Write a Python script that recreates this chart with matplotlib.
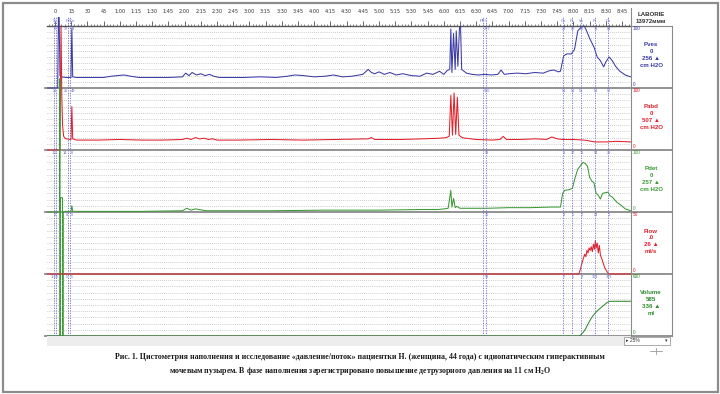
import matplotlib

matplotlib.use("Agg")

import matplotlib.pyplot as plt
from matplotlib.lines import Line2D
from matplotlib.patches import Rectangle
from matplotlib.ticker import MultipleLocator, FuncFormatter
from matplotlib.transforms import Bbox, TransformedBbox

plt.rcParams["mathtext.fontset"] = "custom"
plt.rcParams["mathtext.rm"] = "Liberation Serif:bold"

# ---- traces (time in s, values in panel units) ----
pves_t = [-7, 2.5, 3.2, 3.8, 4.6, 6, 10, 14.8, 15.6, 16.4, 20,
          30, 45, 52, 58, 64, 70, 78, 90, 105, 118, 121, 124, 127, 131, 135, 139, 143, 147, 152, 160,
          175, 190, 205, 215, 222, 230, 240, 250, 258, 266, 275, 285, 290, 293, 296, 300, 305, 310, 316, 322,
          330, 338, 344, 350, 356, 360, 363, 365.5, 366.5, 367.5, 369, 370.5, 371.5, 373, 374.5, 375.5, 376.5, 378, 381, 386,
          392, 398, 404, 410, 413, 416, 420, 428, 436, 444, 452, 458, 462, 466, 468, 471, 474, 478, 481, 484,
          487, 490, 492, 495, 499, 502, 505, 508, 510, 513, 516, 519, 523, 528, 533]
pves_v = [0, 0, 120, 120, 20, 18, 17, 17, 96, 18, 17,
          17, 17, 19, 20, 21, 19, 17, 17, 17, 18, 24, 20, 25, 21, 23, 20, 22, 19, 17, 17,
          17, 18, 17, 19, 21, 20, 18, 19, 21, 18, 19, 22, 30, 25, 23, 26, 22, 25, 21, 23,
          20, 19, 24, 22, 27, 22, 28, 30, 95, 25, 88, 30, 92, 35, 97, 100, 30, 28, 24, 22,
          21, 22, 21, 22, 29, 22, 23, 24, 23, 25, 24, 28, 29, 26, 27, 52, 55, 55, 62, 92,
          98, 100, 93, 80, 66, 50, 44, 34, 42, 50, 44, 35, 27, 21, 18]

pabd_t = [-7, 4.5, 5.6, 6.3, 7, 8, 10, 14.8, 15.6, 16.4, 20, 40, 60, 80, 100, 118, 122, 126, 130, 134,
          138, 142, 146, 150, 170, 200, 230, 260, 290, 293, 296, 320, 340, 356, 362, 365, 366.5, 368, 369.5, 371,
          372.5, 374, 375.5, 377, 380, 390, 405, 412, 415, 418, 430, 445, 455, 460, 465, 470, 480, 490, 500, 510,
          520, 533]
pabd_v = [0, 0, 200, 85, 40, 22, 18, 17, 70, 18, 16, 16, 17, 16, 16, 17, 19, 17, 20, 18,
          19, 17, 18, 16, 16, 17, 16, 17, 18, 20, 17, 17, 18, 19, 20, 22, 88, 24, 92, 25,
          85, 24, 22, 20, 19, 17, 16, 17, 22, 17, 17, 18, 17, 21, 18, 17, 17, 16, 13, 13,
          14, 13]

pdet_t = [-7, 4.2, 4.5, 4.7, 5.0, 7.0, 7.3, 7.6, 9, 12, 14.8, 15.6, 16.4, 20, 40, 80, 118, 122, 126, 130,
          140, 150, 200, 250, 290, 300, 340, 355, 360, 364, 366.5, 367.5, 369, 370.5, 372, 375, 380, 400, 420, 440,
          460, 468, 470, 472, 476, 479, 481, 484, 487, 489, 491, 493, 495, 497, 499, 501, 503, 505, 507, 509,
          512, 514, 516, 520, 524, 528, 533]
pdet_v = [0, 0, 215, -450, 23, 23, -450, 0, 1, 1, 1, 10, 1, 1, 1, 1, 2, 6, 3, 5,
          2, 2, 2, 3, 3, 3, 4, 4, 5, 6, 35, 8, 22, 7, 9, 6, 6, 6, 7, 7,
          8, 8, 30, 35, 36, 38, 52, 69, 76, 80, 78, 74, 56, 50, 47, 30, 27, 21, 30, 31,
          32, 26, 24, 16, 11, 5, 2]

flow_t = [-7, 485, 486.5, 488, 489, 490.5, 491.5, 492.5, 493.5, 494.5, 495.5, 496.5, 497.5, 498.5, 499.5, 500.3,
          501, 502, 503, 504, 505, 506, 507.5, 509, 511, 513, 533]
flow_v = [0, 0, 4, 9, 12, 16, 14, 19, 17, 21, 19, 22, 18, 24, 20, 27,
          21, 25, 17, 23, 15, 13, 9, 5, 2, 0, 0]

vol_t = [-7, 485, 487, 489, 491, 493, 495, 497, 499, 501, 503, 505, 507, 509, 511, 513, 515, 533]
vol_v = [0, 0, 12, 35, 65, 105, 145, 180, 208, 232, 252, 270, 287, 305, 322, 333, 336, 336]

# ---- panels ----
names = ["Pves", "Pabd", "Pdet", "Flow", "Volume"]
zero_text = ["0", "0", "0", ".0", "585"]
max_text = ["256 \u25b2", "507 \u25b2", "257 \u25b2", "26 \u25b2", "336 \u25b2"]
units = ["cm H2O", "cm H2O", "cm H2O", "ml/s", "ml"]
scale_top = [100, 100, 100, 50, 600]
colors = ["#3b3ba6", "#e3202b", "#3c9a36", "#e3202b", "#2f8a2f"]

# ---- event marks ----
events_t = [-0.9, 0.9, 12.0, 13.9, 396.3, 399.1, 470.4, 478.7, 487.0, 500.0, 512.0]
events_top = ["S", "", "", "PrCn", "PPI", "", "Ch", "Pr", "Vo", "Pr", "Ch"]
event_vals = [
    ["9", "", "37", "38", "", "297", "24", "59", "86", "73", "64"],
    ["21", "", "25", "49", "", "500", "51", "51", "51", "53", "52"],
    ["-12", "", "14", "8", "", "59", "9", "37", "71", "94", "29"],
    ["0", "", "0", "0", "", "30", "9", "5", "2", "24", "1"],
    ["-169", "", "5", "5", "", "59", "7", "5", "2", "301", "333"],
]

W, H = 720, 394
X0, X1 = 47, 631
XR = 672
T0, T1 = -7.4, 533.3
edges = [26, 88, 150, 212, 274, 336]
UI = ["Liberation Sans", "DejaVu Sans"]
EV_COL = "#6b6bd0"


def fx(x):
    return x / W


def fy(y):
    return 1 - y / H


def fline(x0, y0, x1, y1, **kw):
    fig.add_artist(Line2D([fx(x0), fx(x1)], [fy(y0), fy(y1)],
                          transform=fig.transFigure, **kw))


def tfmt(s, pos=None):
    s = int(round(s))
    if s < 60:
        return str(s)
    return f"{s // 60}:{s % 60:02d}"


fig = plt.figure(figsize=(7.2, 3.94), dpi=100)
fig.patch.set_facecolor("white")

clip = TransformedBbox(Bbox.from_extents(fx(X0), fy(336), fx(X1), fy(17)),
                       fig.transFigure)

series = [(pves_t, pves_v), (pabd_t, pabd_v), (pdet_t, pdet_v),
          (flow_t, flow_v), (vol_t, vol_v)]

axes = []
for i, (t, v) in enumerate(series):
    top, bot = edges[i], edges[i + 1]
    ax = fig.add_axes([fx(X0), fy(bot), fx(X1) - fx(X0), fy(top) - fy(bot)])
    ax.set_xlim(T0, T1)
    ax.set_ylim(0, scale_top[i])
    ax.patch.set_alpha(0)
    for s in ax.spines.values():
        s.set_visible(False)
    ax.set_yticks([])
    ax.set_xticks([])
    for k in range(1, 10):
        ax.axhline(scale_top[i] * k / 10, color="#a0a0a0", lw=0.5,
                   ls=(0, (1, 2)), zorder=1)
    ln, = ax.plot(t, v, color=colors[i], lw=0.75, zorder=3)
    ln.set_clip_box(clip)
    axes.append(ax)

# top time axis
ax1 = axes[0]
ax1.spines["top"].set_visible(True)
ax1.spines["top"].set_color("#555555")
ax1.spines["top"].set_linewidth(1.0)
ax1.xaxis.set_ticks_position("top")
ax1.xaxis.set_major_locator(MultipleLocator(15))
ax1.xaxis.set_minor_locator(MultipleLocator(3))
ax1.xaxis.set_major_formatter(FuncFormatter(tfmt))
ax1.set_xlim(T0, T1)
ax1.tick_params(axis="x", which="major", direction="out", length=3.5, width=0.6,
                color="#555555", labelsize=3.6, labelcolor="#333333", pad=5)
ax1.tick_params(axis="x", which="minor", direction="out", length=1.6, width=0.5,
                color="#555555")

# event lines overlay
ev = fig.add_axes([fx(X0), fy(336), fx(X1) - fx(X0), fy(17) - fy(336)])
ev.set_xlim(T0, T1)
ev.set_ylim(336, 17)
ev.axis("off")
ev.patch.set_alpha(0)
for t, lab in zip(events_t, events_top):
    ev.axvline(t, color=EV_COL, lw=0.6, ls=(0, (1.5, 1.5)), zorder=2)
    if lab:
        ev.text(t, 21, lab, color=EV_COL, fontsize=3.0, ha="center", va="center",
                family=UI)
for i, vals in enumerate(event_vals):
    for j, (t, lab) in enumerate(zip(events_t, vals)):
        if not lab:
            continue
        if j == 2:
            ev.text(t - 0.3, edges[i] + 3.5, lab, color=EV_COL, fontsize=2.8,
                    ha="right", va="center", family=UI)
        else:
            ev.text(t + 0.5, edges[i] + 3.5, lab, color=EV_COL, fontsize=2.8,
                    ha="left" if j == 3 else "center", va="center", family=UI)

# panel boundaries and right label boxes
for y in edges[1:]:
    fline(45, y, XR, y, color="#8a8a8a", lw=1.3, zorder=0)
fline(X1, 8, X1, 336, color="#8a8a8a", lw=0.8)
fline(XR, 26, XR, 336, color="#8a8a8a", lw=0.8)
fline(X1, 26, XR, 26, color="#8a8a8a", lw=0.8)

fig.text(fx(651), fy(14), "LABORIE", fontsize=4.4, weight="bold", ha="center",
         va="center", color="#333333", family=UI)
fig.text(fx(651), fy(21.5), "13972\u043c\u043c\u043c", fontsize=4.4, weight="bold",
         ha="center", va="center", color="#333333", family=UI)

for i in range(5):
    top, bot = edges[i], edges[i + 1]
    c = colors[i]
    fig.text(fx(633), fy(top + 3), str(scale_top[i]), color=c, fontsize=3.4,
             ha="left", va="center", family=UI)
    fig.text(fx(633), fy(bot - 3), "0", color=c, fontsize=3.4, ha="left",
             va="center", family=UI)
    for k, s in enumerate([names[i], zero_text[i], max_text[i], units[i]]):
        fig.text(fx(651), fy(top + 19 + 6.7 * k), s, color=c, fontsize=4.4,
                 weight="bold", ha="center", va="center", family=UI)

# bottom strip
fig.add_artist(Rectangle((fx(X0), fy(346)), fx(X1) - fx(X0), fy(336) - fy(346),
                         transform=fig.transFigure, facecolor="#ededed",
                         edgecolor="none"))
fig.add_artist(Rectangle((fx(624), fy(345)), fx(670) - fx(624), fy(337) - fy(345),
                         transform=fig.transFigure, facecolor="white",
                         edgecolor="#888888", lw=0.5))
fig.text(fx(626), fy(341), "\u25b8 25%", fontsize=3.6, ha="left", va="center",
         color="#333333", family=UI)
fig.text(fx(666), fy(341), "\u25be", fontsize=3.6, ha="center", va="center",
         color="#333333", family=UI)
fline(650, 351, 662, 351, color="#999999", lw=0.6)
fline(656, 348, 656, 354, color="#999999", lw=0.6)

# caption
cap1 = ("\u0420\u0438\u0441. 1. \u0426\u0438\u0441\u0442\u043e\u043c\u0435\u0442\u0440\u0438\u044f "
        "\u043d\u0430\u043f\u043e\u043b\u043d\u0435\u043d\u0438\u044f \u0438 "
        "\u0438\u0441\u0441\u043b\u0435\u0434\u043e\u0432\u0430\u043d\u0438\u0435 "
        "\u00ab\u0434\u0430\u0432\u043b\u0435\u043d\u0438\u0435/\u043f\u043e\u0442\u043e\u043a\u00bb "
        "\u043f\u0430\u0446\u0438\u0435\u043d\u0442\u043a\u0438 \u041d. "
        "(\u0436\u0435\u043d\u0449\u0438\u043d\u0430, 44 \u0433\u043e\u0434\u0430) \u0441 "
        "\u0438\u0434\u0438\u043e\u043f\u0430\u0442\u0438\u0447\u0435\u0441\u043a\u0438\u043c "
        "\u0433\u0438\u043f\u0435\u0440\u0430\u043a\u0442\u0438\u0432\u043d\u044b\u043c")
cap2 = ("\u043c\u043e\u0447\u0435\u0432\u044b\u043c \u043f\u0443\u0437\u044b\u0440\u0435\u043c. "
        "\u0412 \u0444\u0430\u0437\u0435 \u043d\u0430\u043f\u043e\u043b\u043d\u0435\u043d\u0438\u044f "
        "\u0437\u0430\u0440\u0435\u0433\u0438\u0441\u0442\u0440\u0438\u0440\u043e\u0432\u0430\u043d\u043e "
        "\u043f\u043e\u0432\u044b\u0448\u0435\u043d\u0438\u0435 "
        "\u0434\u0435\u0442\u0440\u0443\u0437\u043e\u0440\u043d\u043e\u0433\u043e "
        "\u0434\u0430\u0432\u043b\u0435\u043d\u0438\u044f \u043d\u0430 11 \u0441\u043c H$_2$O")
fig.text(0.5, fy(357), cap1, fontsize=5.7, weight="bold", ha="center", va="center",
         family="Liberation Serif", color="#1a1a1a")
fig.text(0.5, fy(371), cap2, fontsize=5.7, weight="bold", ha="center", va="center",
         family="Liberation Serif", color="#1a1a1a")

# outer frame
fig.add_artist(Rectangle((fx(2.5), fy(391.5)), fx(715), fy(0) - fy(389),
                         transform=fig.transFigure, facecolor="none",
                         edgecolor="#8c8c8c", lw=1.6))

fig.savefig("out.png", dpi=100)
plt.close(fig)
